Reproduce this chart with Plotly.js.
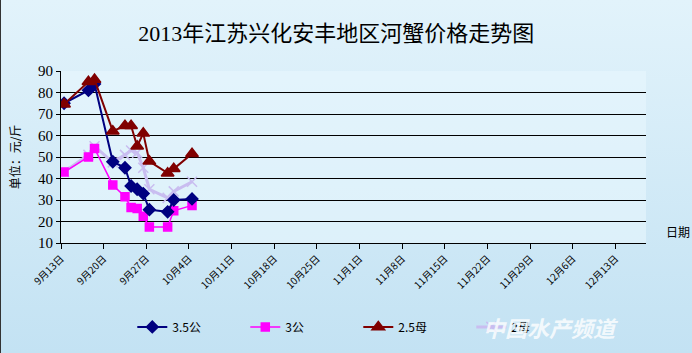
<!DOCTYPE html>
<html><head><meta charset="utf-8">
<script src="https://cdn.plot.ly/plotly-3.0.1.min.js"></script>
<style>
html,body{margin:0;padding:0;}
#wrap{width:692px;height:353px;background:linear-gradient(#E2F3FB,#C3E2F3);box-sizing:border-box;border-left:1px solid #333;}
#chart{width:691px;height:353px;}
</style></head><body>
<div id="wrap"><div id="chart"></div></div>
<script>
const dates = ['2013-09-13','2013-09-17','2013-09-18','2013-09-21','2013-09-23','2013-09-24','2013-09-25','2013-09-26','2013-09-27','2013-09-30','2013-10-01','2013-10-04'];
const names = ['3.5公','3公','2.5母','2母'];
const s35gong = [75, 81, 84, 47.8, 45, 36.5, 35, 33, 25.5, 24.5, 30, 30.5];
const s3gong  = [43, 50, 54, 37, 31.5, 26.5, 26, 22.5, 17.5, 17.5, 25, 27.5];
const s25mu   = [74.5, 85, 86, 62, 64.5, 64.5, 55, 61, 48, 42.5, 44.5, 51.5];
const s2mu    = [43, 51, 55, 47.5, 51, 53, 52, 45, 35, 31, 34, 38.5];

const xs = dates.map(d => d + ' 12:00');
const styles = [
  {color:'#000080', symbol:'diamond', size:9, width:2},
  {color:'#FF00FF', symbol:'square', size:8, width:1.5},
  {color:'#800000', symbol:'triangle-up', size:11, width:2},
  {color:'#C9BDF0', symbol:'x-thin-open', size:10, width:3}
];
const series = [s35gong, s3gong, s25mu, s2mu];
const order = [3,1,0,2];
const traces = order.map(i => ({
  x: xs, y: series[i], name: names[i], type:'scatter', mode:'lines+markers',
  line:{color:styles[i].color, width:styles[i].width},
  marker:{symbol:styles[i].symbol, size:styles[i].size, color:styles[i].color, line:{color:styles[i].color, width:1.5}},
  legendrank: i+1
}));

const layout = {
  width:691, height:353,
  paper_bgcolor:'rgba(0,0,0,0)', plot_bgcolor:'rgba(232,246,253,0.6)',
  margin:{l:60, r:46, t:71, b:110},
  title:{text:'2013年江苏兴化安丰地区河蟹价格走势图', x:0.485, xanchor:'center', y:0.905, yanchor:'middle',
         font:{family:'Liberation Serif, Noto Sans CJK SC', size:22, color:'#000'}},
  xaxis:{type:'date', range:['2013-09-13','2013-12-18'], tick0:'2013-09-13', dtick:7*86400000,
         tickformat:'%-m月%-d日', tickangle:-45, ticks:'outside', ticklen:5, tickcolor:'#000',
         showline:true, linecolor:'#000', linewidth:1, showgrid:false, zeroline:false,
         tickfont:{family:'Noto Sans CJK SC', size:10, color:'#000'}},
  yaxis:{range:[10,90], dtick:10, ticks:'outside', ticklen:4, tickcolor:'#000',
         showline:true, linecolor:'#000', linewidth:1, showgrid:true, gridcolor:'#000', gridwidth:1, zeroline:false,
         tickfont:{family:'Liberation Serif', size:15, color:'#000'},
         title:{text:'单位：元/斤', standoff:14, font:{family:'Noto Sans CJK SC', size:12, color:'#000'}}},
  legend:{orientation:'h', xref:'container', yref:'container', x:0.19, xanchor:'left', y:0.074, yanchor:'middle',
          entrywidth:68, entrywidthmode:'pixels',
          traceorder:'normal', font:{family:'Noto Sans CJK SC', size:12, color:'#000'}, bgcolor:'rgba(0,0,0,0)'},
  showlegend:true,
  annotations:[
    {text:'日期', xref:'paper', yref:'paper', x:1.03, y:0.064, xanchor:'left', yanchor:'middle', showarrow:false,
     font:{family:'Noto Sans CJK SC', size:12, color:'#000'}},
    {text:'<b><i>中国水产频道</i></b>', xref:'paper', yref:'paper', x:0.955, y:-0.49, xanchor:'right', yanchor:'middle', showarrow:false,
     font:{family:'Noto Sans CJK SC', size:22, color:'rgba(255,255,255,0.8)'}}
  ]
};
Plotly.newPlot('chart', traces, layout, {displayModeBar:false, staticPlot:true});
</script>
</body></html>
